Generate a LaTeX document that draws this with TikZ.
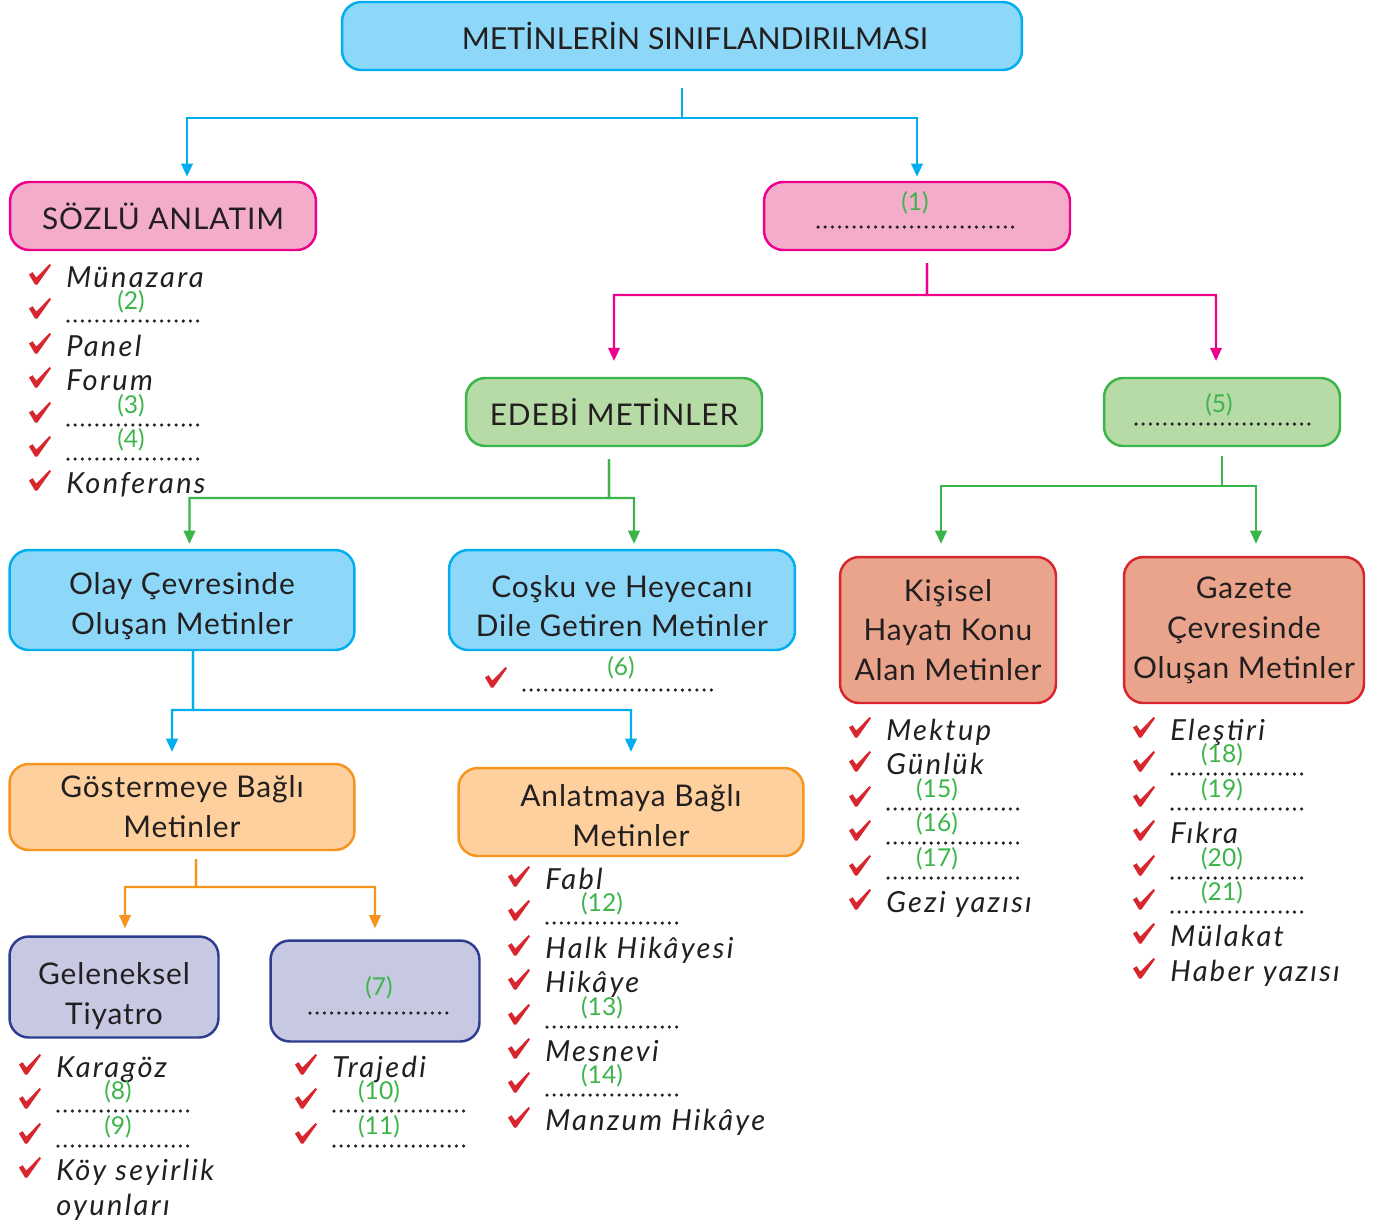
\documentclass[tikz,border=0pt]{standalone}
\usepackage{fontspec}
\setmainfont{Lato}
\newfontfamily\itemfont{Lato}[LetterSpace=8]
\newfontfamily\boxfont{Lato}[LetterSpace=3]
\usetikzlibrary{arrows.meta,positioning}

\definecolor{ink}{HTML}{231F20}
\definecolor{cyanL}{HTML}{00AEEF}
\definecolor{cyanF}{HTML}{8DD8F8}
\definecolor{pinkL}{HTML}{EC008C}
\definecolor{pinkF}{HTML}{F4ACCB}
\definecolor{greenL}{HTML}{39B54A}
\definecolor{greenF}{HTML}{B6DBA6}
\definecolor{redL}{HTML}{D7262D}
\definecolor{salmonF}{HTML}{E9A48B}
\definecolor{orangeL}{HTML}{F7941D}
\definecolor{orangeF}{HTML}{FDD09E}
\definecolor{navyL}{HTML}{2E3C8F}
\definecolor{lilacF}{HTML}{C7C8E2}
\definecolor{tickC}{HTML}{D7262D}
\definecolor{numC}{HTML}{3DB54A}

\tikzset{tickmark/.pic={
  \fill[tickC] (0,10.5) -- (3.6,8.2) -- (7.3,13.6) -- (20.6,0) -- (22,1.3) -- (8.4,20.5) -- (6,20.5) -- cycle;}}

% pushes the first line of a box down
\newcommand{\lift}[1]{\rule{0pt}{#1}}
% list rows: name, x, baseline, text
\newcommand{\chkitem}[4]{%
  \pic (#1t) at (#2-37,#3-23) {tickmark};
  \node[item] (#1) at (#2,#3) {#4};}
% empty rows: name, x, baseline, label x, label
\newcommand{\blankitem}[5]{%
  \pic (#1t) at (#2-37,#3-23) {tickmark};
  \draw[dotline] (#2+2,#3) -- (#2+137,#3);
  \node[num] (#1) at (#4,#3-19) {#5};}

\begin{document}
\begin{tikzpicture}[x=0.02cm, y=-0.02cm, >={Triangle[length=7.5pt,width=6.5pt]},
  box/.style={rectangle, rounded corners=11pt, line width=1.4pt, align=center, text=ink, inner sep=0pt, font=\boxfont\fontsize{17}{22.7}\selectfont},
  bluebox/.style={box, draw=cyanL, fill=cyanF},
  pinkbox/.style={box, draw=pinkL, fill=pinkF},
  greenbox/.style={box, draw=greenL, fill=greenF},
  redbox/.style={box, draw=redL, fill=salmonF},
  orangebox/.style={box, draw=orangeL, fill=orangeF},
  lilacbox/.style={box, draw=navyL, fill=lilacF},
  link/.style={->, line width=1.4pt},
  item/.style={anchor=base west, inner sep=0pt, text=ink, font=\itemfont\fontsize{16.5}{18}\selectfont\itshape},
  num/.style={inner sep=0pt, text=numC, font=\fontsize{14}{16}\selectfont},
  dotline/.style={ink, line width=2pt, line cap=round, dash pattern=on 0pt off 4.1pt}]

\useasboundingbox[fill=white] (0,0) rectangle (1379,1225);

% boxes
\node[bluebox, minimum width=13.6cm, minimum height=1.36cm, font=\fontsize{17.2}{20}\selectfont] (title) at (682,36) {\hspace*{0.52cm}METİNLERİN SINIFLANDIRILMASI};
\node[pinkbox, minimum width=6.12cm, minimum height=1.36cm] (sozlu) at (163,216) {SÖZLÜ ANLATIM};
\node[pinkbox, minimum width=6.12cm, minimum height=1.36cm] (yazili) at (917,216) {};
\node[greenbox, minimum width=5.92cm, minimum height=1.36cm] (edebi) at (614,412) {EDEBİ METİNLER};
\node[greenbox, minimum width=4.72cm, minimum height=1.36cm] (ogretici) at (1222,412) {};
\node[bluebox, minimum width=6.9cm, minimum height=2cm] (olay) at (182,600) {\lift{19.5pt}Olay Çevresinde\\Oluşan Metinler};
\node[bluebox, minimum width=6.92cm, minimum height=2cm] (cosku) at (622,600) {\lift{19.5pt}Coşku ve Heyecanı\\Dile Getiren Metinler};
\node[redbox, minimum width=4.32cm, minimum height=2.92cm] (kisisel) at (948,630) {Kişisel\\Hayatı Konu\\Alan Metinler};
\node[redbox, minimum width=4.8cm, minimum height=2.92cm] (gazete) at (1244,630) {Gazete\\Çevresinde\\Oluşan Metinler};
\node[orangebox, minimum width=6.9cm, minimum height=1.72cm] (goster) at (182,807) {Göstermeye Bağlı\\Metinler};
\node[orangebox, minimum width=6.9cm, minimum height=1.76cm] (anlat) at (631,812) {\lift{17pt}Anlatmaya Bağlı\\Metinler};
\node[lilacbox, minimum width=4.18cm, minimum height=2.02cm] (gelenek) at (114,987) {\lift{23pt}Geleneksel\\Tiyatro};
\node[lilacbox, minimum width=4.18cm, minimum height=2.02cm] (modern) at (375,991) {};

% blanks inside boxes
\node[num] (n1) at (915,203) {(1)};
\draw[dotline] (818,227) -- (1018,227);
\node[num] (n5) at (1219,405) {(5)};
\draw[dotline] (1136,424) -- (1315,424);
\node[num] (n7) at (379,988) {(7)};
\draw[dotline] (310,1013) -- (452,1013);

% connectors
\coordinate (j1) at (682,118);
\coordinate (j2) at (927,295);
\coordinate (j3) at (609,498);
\coordinate (j4) at (1222,486);
\coordinate (j5) at (193,710);
\coordinate (j6) at (196,887);
\draw[link, cyanL, shorten <=9.6pt, shorten >=2.3pt] (title.south) -- (j1) -| ([xshift=0.48cm]sozlu.north);
\draw[link, cyanL, shorten <=9.6pt, shorten >=2.3pt] (title.south) -- (j1) -| (yazili.north);
\draw[link, pinkL, shorten <=6.8pt, shorten >=9pt] ([xshift=0.2cm]yazili.south) -- (j2) -| (edebi.north);
\draw[link, pinkL, shorten <=6.8pt, shorten >=9pt] ([xshift=0.2cm]yazili.south) -- (j2) -| ([xshift=-0.12cm]ogretici.north);
\draw[link, greenL, shorten <=6.8pt, shorten >=2.8pt] ([xshift=-0.1cm]edebi.south) -- (j3) -| ([xshift=0.15cm]olay.north);
\draw[link, greenL, shorten <=6.8pt, shorten >=2.8pt] ([xshift=-0.1cm]edebi.south) -- (j3) -| ([xshift=0.24cm]cosku.north);
\draw[link, greenL, shorten <=5pt, shorten >=6.8pt] (ogretici.south) -- (j4) -| ([xshift=-0.14cm]kisisel.north);
\draw[link, greenL, shorten <=5pt, shorten >=6.8pt] (ogretici.south) -- (j4) -| ([xshift=0.24cm]gazete.north);
\draw[link, cyanL, shorten >=6.2pt] ([xshift=0.22cm]olay.south) -- (j5) -| ([xshift=-0.2cm]goster.north);
\draw[link, cyanL, shorten >=8.5pt] ([xshift=0.22cm]olay.south) -- (j5) -| (anlat.north);
\draw[link, orangeL, shorten <=4.5pt, shorten >=4pt] ([xshift=0.28cm]goster.south) -- (j6) -| ([xshift=0.22cm]gelenek.north);
\draw[link, orangeL, shorten <=4.5pt, shorten >=6.2pt] ([xshift=0.28cm]goster.south) -- (j6) -| (modern.north);

% Sözlü anlatım
\chkitem{s1}{66}{287}{Münazara}
\blankitem{s2}{66}{321}{131}{(2)}
\chkitem{s3}{66}{356}{Panel}
\chkitem{s4}{66}{390}{Forum}
\blankitem{s5}{66}{425}{131}{(3)}
\blankitem{s6}{66}{459}{131}{(4)}
\chkitem{s7}{66}{493}{Konferans}

% Coşku ve heyecan
\pic (c1t) at (485,667) {tickmark};
\draw[dotline] (524,690) -- (718,690);
\node[num] (c1) at (621,668) {(6)};

% Anlatmaya bağlı
\chkitem{a1}{545}{889}{Fabl}
\blankitem{a2}{545}{923}{602}{(12)}
\chkitem{a3}{545}{958}{Halk Hikâyesi}
\chkitem{a4}{545}{992}{Hikâye}
\blankitem{a5}{545}{1027}{602}{(13)}
\chkitem{a6}{545}{1061}{Mesnevi}
\blankitem{a7}{545}{1095}{602}{(14)}
\chkitem{a8}{545}{1130}{Manzum Hikâye}

% Kişisel hayat
\chkitem{k1}{886}{740}{Mektup}
\chkitem{k2}{886}{774}{Günlük}
\blankitem{k3}{886}{809}{937}{(15)}
\blankitem{k4}{886}{843}{937}{(16)}
\blankitem{k5}{886}{878}{937}{(17)}
\chkitem{k6}{886}{912}{Gezi yazısı}

% Gazete
\chkitem{g1}{1170}{740}{Eleştiri}
\blankitem{g2}{1170}{774}{1222}{(18)}
\blankitem{g3}{1170}{809}{1222}{(19)}
\chkitem{g4}{1170}{843}{Fıkra}
\blankitem{g5}{1170}{878}{1222}{(20)}
\blankitem{g6}{1170}{912}{1222}{(21)}
\chkitem{g7}{1170}{946}{Mülakat}
\chkitem{g8}{1170}{981}{Haber yazısı}

% Geleneksel tiyatro
\chkitem{t1}{56}{1077}{Karagöz}
\blankitem{t2}{56}{1111}{118}{(8)}
\blankitem{t3}{56}{1146}{118}{(9)}
\chkitem{t4}{56}{1180}{Köy seyirlik}
\node[item] (t5) at (56,1215) {oyunları};

% Modern tiyatro
\chkitem{m1}{332}{1077}{Trajedi}
\blankitem{m2}{332}{1111}{379}{(10)}
\blankitem{m3}{332}{1146}{379}{(11)}

\end{tikzpicture}
\end{document}
